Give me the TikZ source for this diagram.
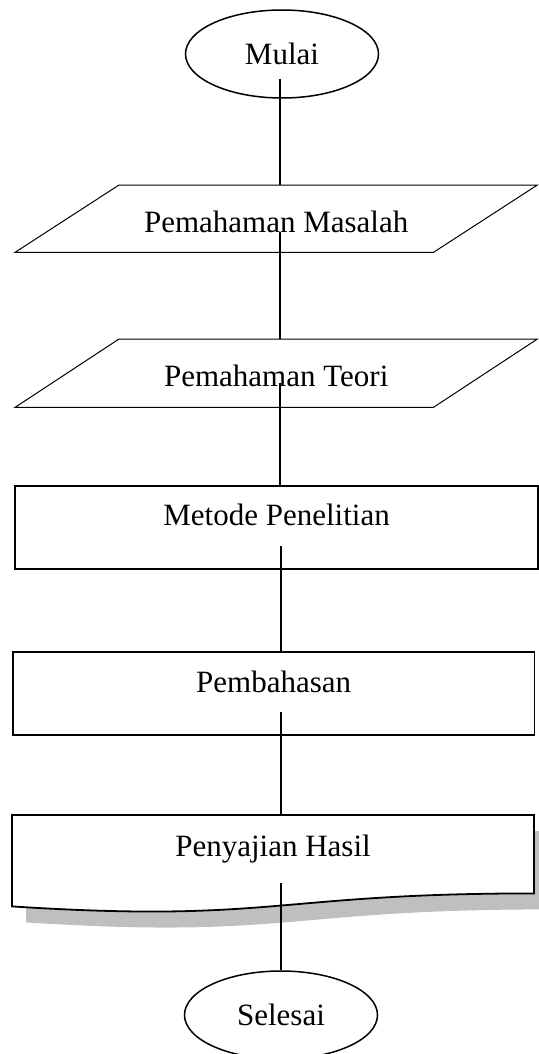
\documentclass[tikz,border=0pt]{standalone}
\usepackage{fontspec}
\setmainfont{Liberation Serif}
\usetikzlibrary{shapes.geometric,backgrounds}
\begin{document}
\begin{tikzpicture}[x=1pt,y=-1pt,
  txt/.style={font=\fontsize{31}{36}\selectfont},
  term/.style={txt, ellipse, draw, line width=1.5pt, minimum width=193pt,
               minimum height=88pt, inner sep=0pt},
  box/.style={txt, rectangle, anchor=north west, inner sep=0pt},
  proc/.style={box, draw, line width=1.8pt},
  plain/.style={line width=1pt},
  link/.style={line width=2.6pt},
  shade/.style={fill=black!25, draw=none},
]
\useasboundingbox (0,0) rectangle (538,1054);

% terminals
\node[term] (mulai) at (282,54) {Mulai};
\node[term] (selesai) at (281,1015) {Selesai};

% input/output steps (parallelograms)
\node[box, minimum width=522pt, text height=47pt, text depth=20pt] (pm) at (15,185) {Pemahaman Masalah};
\draw[plain] ([xshift=104pt]pm.north west) -- (pm.north east)
  -- ([xshift=-104pt]pm.south east) -- (pm.south west) -- cycle;

\node[box, minimum width=522pt, text height=47pt, text depth=21pt] (pt) at (15,339) {Pemahaman Teori};
\draw[plain] ([xshift=104pt]pt.north west) -- (pt.north east)
  -- ([xshift=-104pt]pt.south east) -- (pt.south west) -- cycle;

% process steps
\node[proc, minimum width=522.6pt, text height=40pt, text depth=43pt] (mp) at (14.4,485) {Metode Penelitian};
\node[proc, minimum width=521.6pt, text height=41pt, text depth=42pt] (pb) at (12,651) {Pembahasan};

% document step with drop shadow
\node[box, minimum width=521.6pt, text height=41pt, text depth=37pt] (ph) at (12,815) {Penyajian Hasil};
\begin{scope}[on background layer]
  \path[shade] ([xshift=14pt,yshift=-16pt]ph.north west)
    -- ([xshift=14pt,yshift=-16pt]ph.north east)
    -- ([xshift=14pt,yshift=-16pt]ph.south east)
    .. controls ([xshift=14pt,yshift=-16pt]ph.south) and ([xshift=14pt,yshift=-45.8pt]ph.south)
    .. ([xshift=14pt,yshift=-29pt]ph.south west) -- cycle;
  \draw[line width=1.8pt, fill=white] (ph.north west) -- (ph.north east) -- (ph.south east)
    .. controls (ph.south) and ([yshift=-29.8pt]ph.south)
    .. ([yshift=-13pt]ph.south west) -- cycle;
\end{scope}

% connectors
\coordinate (s1) at (280,79);
\coordinate (s2) at (280,232);
\coordinate (s3) at (280,383);
\coordinate (s4) at (281,546);
\coordinate (s5) at (281,712);
\coordinate (s6) at (281,883);
\draw[link] (s1) -- (s1 |- pm.north);
\draw[link] (s2) -- (s2 |- pt.north);
\draw[link] (s3) -- (s3 |- mp.north);
\draw[link] (s4) -- (s4 |- pb.north);
\draw[link] (s5) -- (s5 |- ph.north);
\draw[link] (s6) -- (s6 |- selesai.north);
\end{tikzpicture}
\end{document}
